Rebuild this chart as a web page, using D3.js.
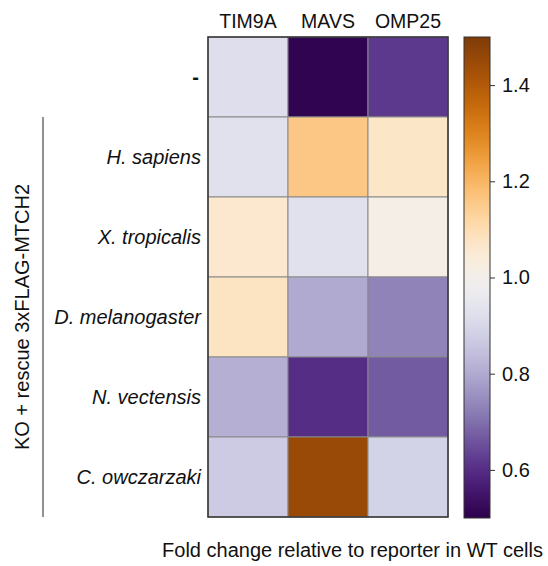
<!DOCTYPE html>
<html>
<head>
<meta charset="utf-8">
<script src="https://cdn.jsdelivr.net/npm/d3@7"></script>
<style>
  body { margin: 0; background: #fff; }
  text { font-family: "Liberation Sans", Arial, sans-serif; fill: #111; }
</style>
</head>
<body>
<div id="chart"></div>
<script>
// data
var genes = ["TIM9A", "MAVS", "OMP25"];
var rows = ["-", "H. sapiens", "X. tropicalis", "D. melanogaster", "N. vectensis", "C. owczarzaki"];
var tim9a = [0.92, 0.93, 1.06, 1.08, 0.81, 0.87];
var mavs = [0.51, 1.16, 0.93, 0.80, 0.60, 1.45];
var omp25 = [0.62, 1.07, 1.01, 0.73, 0.67, 0.89];
var barTicks = [0.6, 0.8, 1.0, 1.2, 1.4];

var series = [tim9a, mavs, omp25];
var cells = [];
rows.forEach(function(r, i) {
  genes.forEach(function(g, j) {
    cells.push({row: r, gene: g, value: series[j][i]});
  });
});

var width = 548, height = 566;
var fs = "20px";
var svg = d3.select("#chart").append("svg")
    .attr("width", width)
    .attr("height", height);

// heatmap area
var x = d3.scaleBand().domain(genes).range([208, 448]);
var y = d3.scaleBand().domain(rows).range([37, 517]);
var color = d3.scaleSequential(d3.interpolatePuOr).domain([0.5, 1.5]);

svg.append("g").selectAll("rect")
    .data(cells)
    .enter()
    .append("rect")
    .attr("x", d => x(d.gene))
    .attr("y", d => y(d.row))
    .attr("width", x.bandwidth())
    .attr("height", y.bandwidth())
    .attr("fill", d => color(d.value))
    .attr("stroke", "#8a8a8a")
    .attr("stroke-width", 1);

// outer border
svg.append("rect")
    .attr("x", 208).attr("y", 37)
    .attr("width", 240).attr("height", 480)
    .attr("fill", "none")
    .attr("stroke", "#333")
    .attr("stroke-width", 1.5);

// column labels
svg.append("g").selectAll("text")
    .data(genes)
    .enter()
    .append("text")
    .attr("x", d => x(d) + x.bandwidth() / 2)
    .attr("y", 28)
    .attr("text-anchor", "middle")
    .style("font-size", "19.5px")
    .text(d => d);

// row labels
svg.append("g").selectAll("text")
    .data(rows)
    .enter()
    .append("text")
    .attr("x", d => d == "-" ? 199 : 201)
    .attr("y", d => y(d) + y.bandwidth() / 2 + 7)
    .attr("text-anchor", "end")
    .style("font-size", fs)
    .style("font-style", d => d == "-" ? "normal" : "italic")
    .style("font-weight", d => d == "-" ? "bold" : "normal")
    .text(d => d);

// bracket for rescue rows
svg.append("line")
    .attr("x1", 43).attr("x2", 43)
    .attr("y1", y("H. sapiens")).attr("y2", 517)
    .attr("stroke", "#222")
    .attr("stroke-width", 1);

svg.append("text")
    .attr("transform", "translate(29," + ((y("H. sapiens") + 517) / 2) + ") rotate(-90)")
    .attr("text-anchor", "middle")
    .style("font-size", fs)
    .text("KO + rescue 3xFLAG-MTCH2");

// colorbar
var cb = d3.scaleLinear().domain([0.5, 1.5]).range([518, 37]);
var grad = svg.append("defs").append("linearGradient")
    .attr("id", "cbar")
    .attr("x1", "0").attr("x2", "0")
    .attr("y1", "1").attr("y2", "0");
grad.selectAll("stop")
    .data(d3.range(0, 1.001, 0.02))
    .enter()
    .append("stop")
    .attr("offset", d => d)
    .attr("stop-color", d => d3.interpolatePuOr(d));

svg.append("rect")
    .attr("x", 464).attr("y", 37)
    .attr("width", 26).attr("height", 481)
    .attr("fill", "url(#cbar)")
    .attr("stroke", "#333")
    .attr("stroke-width", 1);

var cbAxis = d3.axisRight(cb)
    .tickValues(barTicks)
    .tickFormat(d3.format(".1f"))
    .tickSize(5)
    .tickPadding(7);

var cbG = svg.append("g")
    .attr("transform", "translate(490,0)")
    .call(cbAxis);
cbG.select(".domain").remove();
cbG.selectAll("text")
    .style("font-size", fs)
    .style("font-family", "'Liberation Sans', Arial, sans-serif")
    .attr("fill", "#111");
cbG.selectAll("line").attr("stroke", "#333");

// bottom caption
svg.append("text")
    .attr("x", 543)
    .attr("y", 557)
    .attr("text-anchor", "end")
    .style("font-size", fs)
    .text("Fold change relative to reporter in WT cells");
</script>
</body>
</html>
